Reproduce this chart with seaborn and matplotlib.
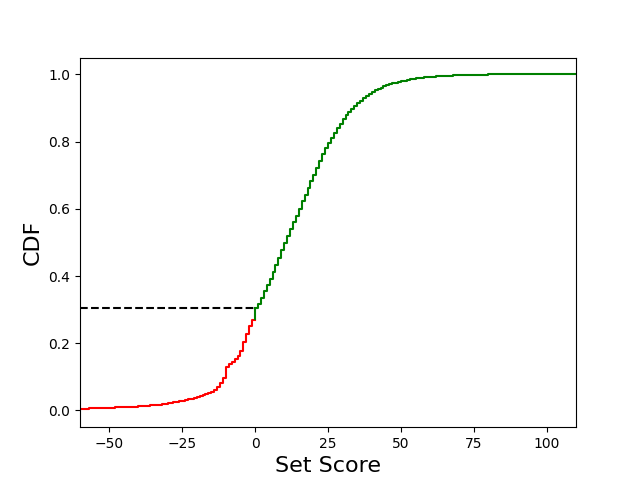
import numpy as np
import pandas as pd
import matplotlib
matplotlib.use("Agg")
import matplotlib.pyplot as plt
from matplotlib.ticker import MultipleLocator
import seaborn as sns

# CDF of set score (red: score < 0, green: score >= 0)
neg_scores = [-60, -57, -54, -51, -48, -45, -42, -40, -38, -36, -34, -32, -30, -28,
              -27, -26, -25, -24, -23, -22, -21, -20, -19, -18, -17, -16, -15, -14,
              -13, -12, -11, -10, -9, -8, -7, -6, -5, -4, -3, -2, -1]
neg_cdf = [0.005, 0.006, 0.007, 0.008, 0.009, 0.010, 0.011, 0.012, 0.013, 0.015,
           0.017, 0.019, 0.021, 0.024, 0.026, 0.028, 0.029, 0.031, 0.033, 0.035,
           0.037, 0.040, 0.042, 0.045, 0.048, 0.051, 0.055, 0.062, 0.070, 0.082,
           0.095, 0.128, 0.137, 0.145, 0.152, 0.163, 0.178, 0.205, 0.228, 0.250,
           0.270]

pos_scores = [0, 1, 2, 3, 4, 5, 6, 7, 8, 9, 10, 11, 12, 13, 14, 15, 16, 17, 18, 19,
              20, 21, 22, 23, 24, 25, 26, 27, 28, 29, 30, 31, 32, 33, 34, 35, 36,
              37, 38, 39, 40, 41, 42, 43, 44, 45, 46, 47, 48, 49, 50, 51, 52, 53,
              54, 55, 56, 57, 58, 59, 60, 62, 64, 66, 68, 70, 74, 80, 110]
pos_cdf = [0.305, 0.318, 0.335, 0.355, 0.373, 0.392, 0.413, 0.433, 0.455, 0.476,
           0.497, 0.518, 0.540, 0.560, 0.580, 0.600, 0.622, 0.642, 0.662, 0.682,
           0.700, 0.720, 0.742, 0.762, 0.780, 0.796, 0.811, 0.826, 0.840, 0.853,
           0.866, 0.878, 0.888, 0.898, 0.907, 0.915, 0.922, 0.929, 0.936, 0.942,
           0.948, 0.953, 0.957, 0.961, 0.964, 0.967, 0.970, 0.973, 0.975, 0.977,
           0.979, 0.981, 0.983, 0.985, 0.987, 0.988, 0.989, 0.990, 0.991, 0.992,
           0.993, 0.994, 0.995, 0.996, 0.997, 0.998, 0.999, 1.000, 1.000]

# red part runs up to score 0 where the green part begins
neg_df = pd.DataFrame({"score": neg_scores + [pos_scores[0]],
                       "cdf": neg_cdf + [neg_cdf[-1]]})
pos_df = pd.DataFrame({"score": pos_scores, "cdf": pos_cdf})

fig, ax = plt.subplots(figsize=(6.4, 4.8), dpi=100)

sns.lineplot(data=neg_df, x="score", y="cdf", color="red", drawstyle="steps-post",
             estimator=None, ax=ax)
sns.lineplot(data=pos_df, x="score", y="cdf", color="green", drawstyle="steps-post",
             estimator=None, ax=ax)
# vertical connection at score 0
ax.vlines(pos_scores[0], neg_cdf[-1], pos_cdf[0], color="green", linewidth=1.5)

# dashed line marking the CDF at score 0
ax.hlines(pos_cdf[0], neg_scores[0], pos_scores[0], colors="black",
          linestyles="--", linewidth=1.5)

ax.set_xlim(-60, 110)
ax.set_ylim(-0.05, 1.05)
ax.xaxis.set_major_locator(MultipleLocator(25))
ax.set_xlabel("Set Score", fontsize=16)
ax.set_ylabel("CDF", fontsize=16)

plt.savefig("out.png", dpi=100)
